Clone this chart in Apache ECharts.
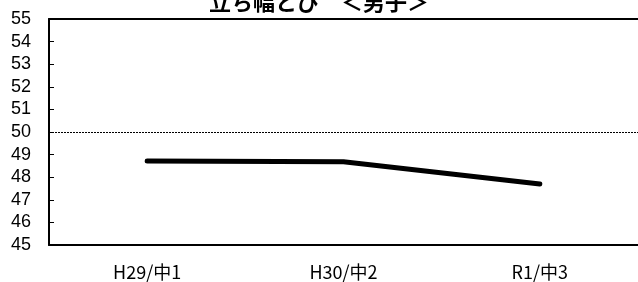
<!DOCTYPE html>
<html>
<head>
<meta charset="utf-8">
<script src="https://cdn.jsdelivr.net/npm/echarts@6/dist/echarts.min.js"></script>
<style>
    html, body { margin: 0; padding: 0; background: #fff; }
    #chart { width: 638px; height: 282px; }
</style>
</head>
<body>
<div id="chart"></div>
<script>
    // 立ち幅とび（男子）の推移
    const categories = ['H29/中1', 'H30/中2', 'R1/中3'];
    const values = [48.72, 48.68, 47.7];
    const refLine = 50;
    const yMin = 45, yMax = 55, yStep = 1;

    let myChart = echarts.init(document.getElementById('chart'));
    myChart.setOption({
        animation: false,
        title: {
            text: '立ち幅とび　＜男子＞',
            left: 'center',
            top: -14,
            textStyle: {
                fontFamily: 'Noto Sans CJK JP',
                fontWeight: 'bold',
                fontSize: 22,
                color: '#000'
            }
        },
        grid: {
            left: 49,
            right: 0,
            top: 19,
            bottom: 37
        },
        xAxis: [
            {
                type: 'category',
                data: categories,
                axisLine: { lineStyle: { color: '#000', width: 2 } },
                axisTick: { show: false },
                axisLabel: {
                    margin: 18,
                    fontFamily: 'Noto Sans CJK JP',
                    fontSize: 18,
                    color: '#000'
                }
            },
            {
                type: 'category',
                position: 'top',
                data: categories,
                axisLine: { lineStyle: { color: '#000', width: 2 } },
                axisTick: { show: false },
                axisLabel: { show: false }
            }
        ],
        yAxis: {
            type: 'value',
            min: yMin,
            max: yMax,
            interval: yStep,
            axisLine: { show: true, lineStyle: { color: '#000', width: 2 } },
            axisTick: { show: true, inside: true, length: 5, lineStyle: { color: '#000' } },
            splitLine: { show: false },
            axisLabel: {
                margin: 18,
                fontFamily: 'Liberation Sans',
                fontSize: 18,
                color: '#000'
            }
        },
        series: [
            {
                type: 'line',
                data: values,
                symbol: 'none',
                lineStyle: { color: '#000', width: 5, cap: 'round' },
                markLine: {
                    silent: true,
                    symbol: 'none',
                    label: { show: false },
                    lineStyle: { color: '#000', width: 1, type: [2, 1] },
                    data: [{ yAxis: refLine }]
                }
            }
        ]
    });
</script>
</body>
</html>
